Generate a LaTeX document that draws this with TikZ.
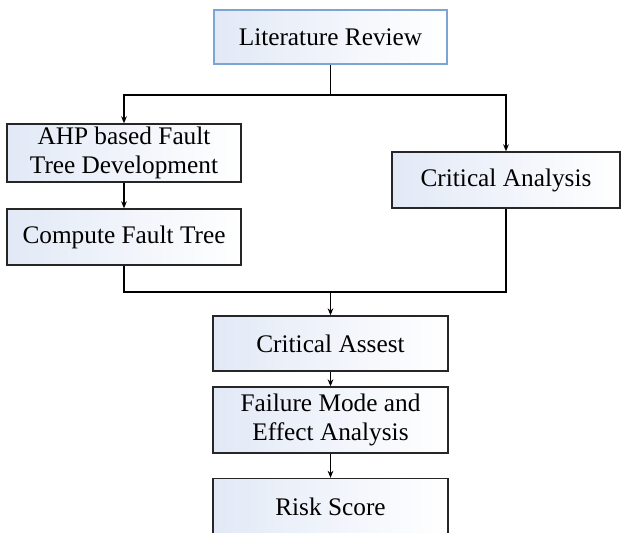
\documentclass[tikz,border=0pt]{standalone}
\usepackage{fontspec}
\setmainfont{Liberation Serif}
\usetikzlibrary{arrows.meta}
\definecolor{paleblue}{RGB}{226,233,246}
\definecolor{litblue}{RGB}{125,165,212}

\begin{document}
\begin{tikzpicture}[x=0.025cm,y=-0.025cm]
    \tikzset{stage/.style = {shape=rectangle,draw=black!85,line width=0.9pt,
        left color=paleblue,right color=white,inner sep=0pt,align=center,
        minimum width=5.875cm,minimum height=1.4cm,
        font=\fontsize{18}{21}\selectfont},
        link/.style = {line width=0.9pt,-{Stealth[length=5pt,width=4pt]}}}
    \useasboundingbox (0,0) rectangle (621,533);

    % Top box
    \node[stage,draw=litblue,minimum width=5.825cm,minimum height=1.35cm] (lit) at (330.5,37) {Literature Review};

    % Left branch
    \node[stage,minimum width=5.85cm,minimum height=1.45cm] (ahp) at (124,153) {AHP based Fault\\Tree Development};
    \node[stage,minimum width=5.85cm] (cft) at (124,237) {Compute Fault Tree};

    % Right branch
    \node[stage,minimum width=5.7cm] (ca) at (506,180) {Critical Analysis};

    % Lower column
    \node[stage,minimum height=1.375cm] (asset) at (330.5,343.5) {Critical Assest};
    \node[stage,minimum height=1.65cm] (fmea) at (330.5,420) {Failure Mode and\\Effect Analysis};
    \node[stage,minimum height=1.425cm] (risk) at (330.5,507) {Risk Score};

    % Split and join points
    \coordinate (split) at (330.5,95);
    \coordinate (join) at (330.5,292);

    % Connectors
    \draw[line width=0.9pt] (lit) -- (split);
    \draw[link] (split) -| (ahp);
    \draw[link] (split) -| (ca);
    \draw[line width=0.9pt] (cft) |- (join);
    \draw[line width=0.9pt] (ca) |- (join);
    \draw[link] (join) -- (asset);
    \foreach \source/\target in {ahp/cft, asset/fmea, fmea/risk}
        \draw[link] (\source) -- (\target);
\end{tikzpicture}
\end{document}
